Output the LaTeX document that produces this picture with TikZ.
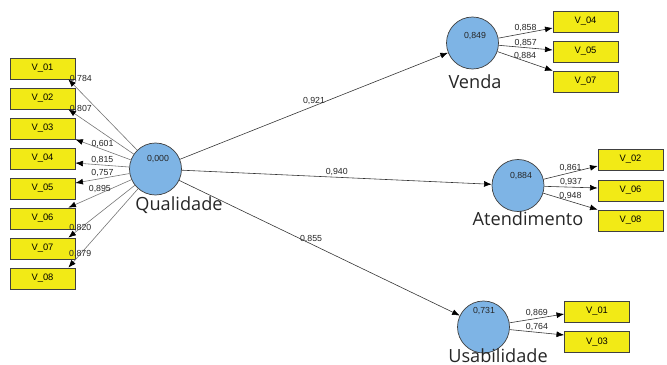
\documentclass[tikz,border=0pt]{standalone}
\usepackage{fontspec}
\usepackage{xcolor}
\usepackage{tikz}
\usetikzlibrary{arrows.meta}
\newfontfamily\lvfont{Open Sans}
\newfontfamily\numfont{Liberation Sans}
\definecolor{lvblue}{RGB}{126,180,229}
\definecolor{mvyellow}{RGB}{242,234,22}

\begin{document}
\begin{tikzpicture}[x=0.03cm,y=-0.03cm,
        latent/.style={circle,draw=black!75,fill=lvblue,line width=0.6pt,minimum size=1.56cm,inner sep=0pt},
        indicator/.style={rectangle,draw=black!75,fill=mvyellow,line width=0.6pt,minimum width=1.95cm,minimum height=0.63cm,inner sep=0pt,font=\numfont\fontsize{8}{9}\selectfont},
        lvname/.style={anchor=base,font=\lvfont\fontsize{15.5}{18}\selectfont,text=black!85},
        lvvalue/.style={anchor=base,font=\numfont\fontsize{7.5}{9}\selectfont,text=black!85},
        coef/.style={font=\numfont\fontsize{7.5}{9}\selectfont,text=black!85,inner sep=1pt},
        pathline/.style={draw=black!80,line width=0.5pt,-{Latex[length=6.5pt,width=5pt,black]}},
        loadline/.style={draw=black!80,line width=0.5pt,-{Latex[length=6.5pt,width=5pt,black]}},
        qualline/.style={draw=black!55,line width=0.5pt,-{Latex[length=6.5pt,width=5pt,black]}}]
        \useasboundingbox (0,0) rectangle (667,365);

        %%% Qualidade %%%
        \node[latent] (qual) at (155.5,169) {};
        \node[lvvalue] (qualval) at (158,161.5) {0,000};
        \node[lvname] (qualname) at (179,210) {Qualidade};
        \foreach \i in {1,...,8}
            \node[indicator] (ql\i) at (42.5,{38.5+30*\i}) {V\_0\i};
        \draw[qualline] (qual) -- node[coef,at end,anchor=west]{0,784} ([xshift=-2.1mm]ql1.south east);
        \draw[qualline] (qual) -- node[coef,at end,anchor=west]{0,807} ([xshift=-2.1mm]ql2.south east);
        \draw[qualline] (qual) -- node[coef,pos=.51,above]{0,601} (ql3.south east);
        \draw[qualline] (qual) -- node[coef,pos=.5,above]{0,815} ([yshift=-1.35mm]ql4.east);
        \draw[qualline] (qual) -- node[coef,pos=.5,above]{0,757} ([yshift=1.65mm]ql5.east);
        \draw[qualline] (qual) -- node[coef,pos=.5,above]{0,895} ([xshift=-2.1mm]ql6.north east);
        \draw[qualline] (qual) -- node[coef,pos=.82]{0,820} ([xshift=-2.1mm]ql7.north east);
        \draw[qualline] (qual) -- node[coef,pos=.83]{0,879} ([xshift=-2.1mm]ql8.north east);

        %%% Venda %%%
        \node[latent] (venda) at (472.5,43) {};
        \node[lvvalue] (vendaval) at (475,38.5) {0,849};
        \node[lvname] (vendaname) at (475,88) {Venda};
        \node[indicator] (vd4) at (585.5,21.5) {V\_04};
        \node[indicator] (vd5) at (585.5,51.5) {V\_05};
        \node[indicator] (vd7) at (585.5,81.5) {V\_07};
        \draw[loadline] (venda) -- node[coef,above]{0,858} ([yshift=-1.95mm]vd4.west);
        \draw[loadline] (venda) -- node[coef,above]{0,857} ([yshift=0.45mm]vd5.west);
        \draw[loadline] (venda) -- node[coef,above]{0,884} (vd7.north west);

        %%% Atendimento %%%
        \node[latent] (atend) at (518,185.5) {};
        \node[lvvalue] (atendval) at (521,178.5) {0,884};
        \node[lvname] (atendname) at (528,225) {Atendimento};
        \node[indicator] (at2) at (630.5,159.5) {V\_02};
        \node[indicator] (at6) at (630.5,190.5) {V\_06};
        \node[indicator] (at8) at (630.5,220.5) {V\_08};
        \draw[loadline] (atend) -- node[coef,above]{0,861} ([yshift=-1.95mm]at2.west);
        \draw[loadline] (atend) -- node[coef,above]{0,937} ([yshift=0.75mm]at6.west);
        \draw[loadline] (atend) -- node[coef,above]{0,948} (at8.north west);

        %%% Usabilidade %%%
        \node[latent] (usab) at (483.5,327) {};
        \node[lvvalue] (usabval) at (484,313.5) {0,731};
        \node[lvname] (usabname) at (498,362) {Usabilidade};
        \node[indicator] (us1) at (597,311.5) {V\_01};
        \node[indicator] (us3) at (597,342) {V\_03};
        \draw[loadline] (usab) -- node[coef,above]{0,869} ([yshift=-0.75mm]us1.west);
        \draw[loadline] (usab) -- node[coef,above]{0,764} ([yshift=2.1mm]us3.west);

        %%% structural paths %%%
        \draw[pathline] (qual) -- node[coef,above]{0,921} (venda);
        \draw[pathline] (qual) -- node[coef,above]{0,940} (atend);
        \draw[pathline] (qual) -- node[coef,above,pos=.47]{0,855} (usab);
    \end{tikzpicture}
\end{document}
